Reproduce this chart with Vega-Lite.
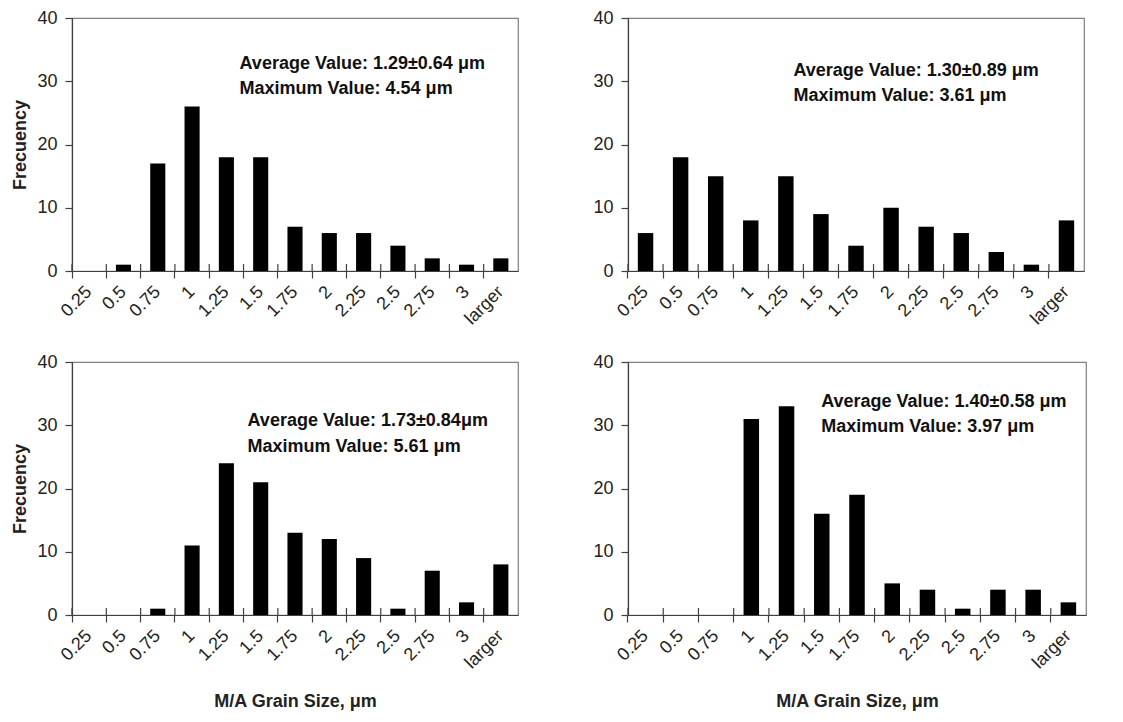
{
  "$schema": "https://vega.github.io/schema/vega-lite/v6.json",
  "background": "white",
  "padding": {"left": 11, "top": 8, "right": 5, "bottom": 5},
  "config": {
    "font": "Liberation Sans",
    "view": {"stroke": "#808080", "strokeWidth": 1.2},
    "axis": {
      "domainColor": "#404040", "tickColor": "#404040", "domainWidth": 1.2, "tickWidth": 1.2,
      "labelColor": "#222222", "labelFontSize": 18, "labelFont": "Liberation Sans",
      "titleFontSize": 18, "titleFontWeight": "bold", "titleColor": "#222222", "titleFont": "Liberation Sans",
      "grid": false
    }
  },
  "datasets": {
    "hist": [
      {"panel": "a", "bin": "0.25", "freq": 0}, {"panel": "a", "bin": "0.5", "freq": 1}, {"panel": "a", "bin": "0.75", "freq": 17},
      {"panel": "a", "bin": "1", "freq": 26}, {"panel": "a", "bin": "1.25", "freq": 18}, {"panel": "a", "bin": "1.5", "freq": 18},
      {"panel": "a", "bin": "1.75", "freq": 7}, {"panel": "a", "bin": "2", "freq": 6}, {"panel": "a", "bin": "2.25", "freq": 6},
      {"panel": "a", "bin": "2.5", "freq": 4}, {"panel": "a", "bin": "2.75", "freq": 2}, {"panel": "a", "bin": "3", "freq": 1},
      {"panel": "a", "bin": "larger", "freq": 2},
      {"panel": "b", "bin": "0.25", "freq": 6}, {"panel": "b", "bin": "0.5", "freq": 18}, {"panel": "b", "bin": "0.75", "freq": 15},
      {"panel": "b", "bin": "1", "freq": 8}, {"panel": "b", "bin": "1.25", "freq": 15}, {"panel": "b", "bin": "1.5", "freq": 9},
      {"panel": "b", "bin": "1.75", "freq": 4}, {"panel": "b", "bin": "2", "freq": 10}, {"panel": "b", "bin": "2.25", "freq": 7},
      {"panel": "b", "bin": "2.5", "freq": 6}, {"panel": "b", "bin": "2.75", "freq": 3}, {"panel": "b", "bin": "3", "freq": 1},
      {"panel": "b", "bin": "larger", "freq": 8},
      {"panel": "c", "bin": "0.25", "freq": 0}, {"panel": "c", "bin": "0.5", "freq": 0}, {"panel": "c", "bin": "0.75", "freq": 1},
      {"panel": "c", "bin": "1", "freq": 11}, {"panel": "c", "bin": "1.25", "freq": 24}, {"panel": "c", "bin": "1.5", "freq": 21},
      {"panel": "c", "bin": "1.75", "freq": 13}, {"panel": "c", "bin": "2", "freq": 12}, {"panel": "c", "bin": "2.25", "freq": 9},
      {"panel": "c", "bin": "2.5", "freq": 1}, {"panel": "c", "bin": "2.75", "freq": 7}, {"panel": "c", "bin": "3", "freq": 2},
      {"panel": "c", "bin": "larger", "freq": 8},
      {"panel": "d", "bin": "0.25", "freq": 0}, {"panel": "d", "bin": "0.5", "freq": 0}, {"panel": "d", "bin": "0.75", "freq": 0},
      {"panel": "d", "bin": "1", "freq": 31}, {"panel": "d", "bin": "1.25", "freq": 33}, {"panel": "d", "bin": "1.5", "freq": 16},
      {"panel": "d", "bin": "1.75", "freq": 19}, {"panel": "d", "bin": "2", "freq": 5}, {"panel": "d", "bin": "2.25", "freq": 4},
      {"panel": "d", "bin": "2.5", "freq": 1}, {"panel": "d", "bin": "2.75", "freq": 4}, {"panel": "d", "bin": "3", "freq": 4},
      {"panel": "d", "bin": "larger", "freq": 2}
    ],
    "notes": [
      {"panel": "a", "text": "Average Value: 1.29±0.64  μm", "bin": "1.5", "freq": 32},
      {"panel": "a", "text": "Maximum Value: 4.54  μm", "bin": "1.5", "freq": 28},
      {"panel": "b", "text": "Average Value: 1.30±0.89 μm", "bin": "1.5", "freq": 30.8},
      {"panel": "b", "text": "Maximum Value: 3.61 μm", "bin": "1.5", "freq": 26.9},
      {"panel": "c", "text": "Average Value: 1.73±0.84μm", "bin": "1.5", "freq": 29.9},
      {"panel": "c", "text": "Maximum Value: 5.61 μm", "bin": "1.5", "freq": 25.8},
      {"panel": "d", "text": "Average Value: 1.40±0.58 μm", "bin": "1.5", "freq": 32.9},
      {"panel": "d", "text": "Maximum Value: 3.97 μm", "bin": "1.5", "freq": 28.9}
    ]
  },
  "columns": 2,
  "bounds": "flush",
  "spacing": {"row": 91, "column": 110},
  "concat": [
    {
      "width": 446, "height": 253,
      "layer": [
        {
          "data": {"name": "hist"},
          "transform": [{"filter": "datum.panel === 'a'"}],
          "mark": {"type": "bar", "color": "black", "width": {"band": 0.44}},
          "encoding": {
            "x": {"field": "bin", "type": "ordinal", "title": null,
              "scale": {"domain": ["0.25","0.5","0.75","1","1.25","1.5","1.75","2","2.25","2.5","2.75","3","larger"], "paddingInner": 0, "paddingOuter": 0},
              "axis": {"bandPosition": 0, "labelAngle": -45, "labelAlign": "right", "labelBaseline": "middle", "tickSize": 7, "labelPadding": 11, "labelOverlap": false}},
            "y": {"field": "freq", "type": "quantitative", "title": "Frecuency",
              "scale": {"domain": [0, 40], "nice": false},
              "axis": {"values": [0, 10, 20, 30, 40], "tickSize": 7, "labelPadding": 8, "titlePadding": 7}}
          }
        },
        {
          "data": {"name": "hist"},
          "transform": [{"filter": "datum.panel === 'a'"}],
          "mark": {"type": "rule", "color": "#404040", "strokeWidth": 1.2},
          "encoding": {
            "x": {"field": "bin", "type": "ordinal", "bandPosition": 0, "title": null},
            "y": {"datum": 0, "type": "quantitative"},
            "y2": {"datum": 1.1}
          }
        },
        {
          "data": {"name": "notes"},
          "transform": [{"filter": "datum.panel === 'a'"}],
          "mark": {"type": "text", "align": "left", "baseline": "alphabetic", "fontWeight": "bold", "fontSize": 18, "color": "#111111", "dx": -4},
          "encoding": {
            "x": {"field": "bin", "type": "ordinal", "bandPosition": 0, "title": null},
            "y": {"field": "freq", "type": "quantitative", "title": "Frecuency"},
            "text": {"field": "text"}
          }
        }
      ]
    },
    {
      "width": 456, "height": 253,
      "layer": [
        {
          "data": {"name": "hist"},
          "transform": [{"filter": "datum.panel === 'b'"}],
          "mark": {"type": "bar", "color": "black", "width": {"band": 0.44}},
          "encoding": {
            "x": {"field": "bin", "type": "ordinal", "title": null,
              "scale": {"domain": ["0.25","0.5","0.75","1","1.25","1.5","1.75","2","2.25","2.5","2.75","3","larger"], "paddingInner": 0, "paddingOuter": 0},
              "axis": {"bandPosition": 0, "labelAngle": -45, "labelAlign": "right", "labelBaseline": "middle", "tickSize": 7, "labelPadding": 11, "labelOverlap": false}},
            "y": {"field": "freq", "type": "quantitative", "title": null,
              "scale": {"domain": [0, 40], "nice": false},
              "axis": {"values": [0, 10, 20, 30, 40], "tickSize": 7, "labelPadding": 8}}
          }
        },
        {
          "data": {"name": "hist"},
          "transform": [{"filter": "datum.panel === 'b'"}],
          "mark": {"type": "rule", "color": "#404040", "strokeWidth": 1.2},
          "encoding": {
            "x": {"field": "bin", "type": "ordinal", "bandPosition": 0, "title": null},
            "y": {"datum": 0, "type": "quantitative"},
            "y2": {"datum": 1.1}
          }
        },
        {
          "data": {"name": "notes"},
          "transform": [{"filter": "datum.panel === 'b'"}],
          "mark": {"type": "text", "align": "left", "baseline": "alphabetic", "fontWeight": "bold", "fontSize": 18, "color": "#111111", "dx": -10},
          "encoding": {
            "x": {"field": "bin", "type": "ordinal", "bandPosition": 0, "title": null},
            "y": {"field": "freq", "type": "quantitative", "title": null},
            "text": {"field": "text"}
          }
        }
      ]
    },
    {
      "width": 446, "height": 253,
      "layer": [
        {
          "data": {"name": "hist"},
          "transform": [{"filter": "datum.panel === 'c'"}],
          "mark": {"type": "bar", "color": "black", "width": {"band": 0.44}},
          "encoding": {
            "x": {"field": "bin", "type": "ordinal", "title": "M/A Grain Size, μm",
              "scale": {"domain": ["0.25","0.5","0.75","1","1.25","1.5","1.75","2","2.25","2.5","2.75","3","larger"], "paddingInner": 0, "paddingOuter": 0},
              "axis": {"bandPosition": 0, "labelAngle": -45, "labelAlign": "right", "labelBaseline": "middle", "tickSize": 7, "labelPadding": 11, "labelOverlap": false, "titlePadding": 21}},
            "y": {"field": "freq", "type": "quantitative", "title": "Frecuency",
              "scale": {"domain": [0, 40], "nice": false},
              "axis": {"values": [0, 10, 20, 30, 40], "tickSize": 7, "labelPadding": 8, "titlePadding": 7}}
          }
        },
        {
          "data": {"name": "hist"},
          "transform": [{"filter": "datum.panel === 'c'"}],
          "mark": {"type": "rule", "color": "#404040", "strokeWidth": 1.2},
          "encoding": {
            "x": {"field": "bin", "type": "ordinal", "bandPosition": 0, "title": "M/A Grain Size, μm"},
            "y": {"datum": 0, "type": "quantitative"},
            "y2": {"datum": 1.1}
          }
        },
        {
          "data": {"name": "notes"},
          "transform": [{"filter": "datum.panel === 'c'"}],
          "mark": {"type": "text", "align": "left", "baseline": "alphabetic", "fontWeight": "bold", "fontSize": 18, "color": "#111111", "dx": 4},
          "encoding": {
            "x": {"field": "bin", "type": "ordinal", "bandPosition": 0, "title": "M/A Grain Size, μm"},
            "y": {"field": "freq", "type": "quantitative", "title": "Frecuency"},
            "text": {"field": "text"}
          }
        }
      ]
    },
    {
      "width": 458, "height": 253,
      "layer": [
        {
          "data": {"name": "hist"},
          "transform": [{"filter": "datum.panel === 'd'"}],
          "mark": {"type": "bar", "color": "black", "width": {"band": 0.44}},
          "encoding": {
            "x": {"field": "bin", "type": "ordinal", "title": "M/A Grain Size, μm",
              "scale": {"domain": ["0.25","0.5","0.75","1","1.25","1.5","1.75","2","2.25","2.5","2.75","3","larger"], "paddingInner": 0, "paddingOuter": 0},
              "axis": {"bandPosition": 0, "labelAngle": -45, "labelAlign": "right", "labelBaseline": "middle", "tickSize": 7, "labelPadding": 11, "labelOverlap": false, "titlePadding": 21}},
            "y": {"field": "freq", "type": "quantitative", "title": null,
              "scale": {"domain": [0, 40], "nice": false},
              "axis": {"values": [0, 10, 20, 30, 40], "tickSize": 7, "labelPadding": 8}}
          }
        },
        {
          "data": {"name": "hist"},
          "transform": [{"filter": "datum.panel === 'd'"}],
          "mark": {"type": "rule", "color": "#404040", "strokeWidth": 1.2},
          "encoding": {
            "x": {"field": "bin", "type": "ordinal", "bandPosition": 0, "title": "M/A Grain Size, μm"},
            "y": {"datum": 0, "type": "quantitative"},
            "y2": {"datum": 1.1}
          }
        },
        {
          "data": {"name": "notes"},
          "transform": [{"filter": "datum.panel === 'd'"}],
          "mark": {"type": "text", "align": "left", "baseline": "alphabetic", "fontWeight": "bold", "fontSize": 18, "color": "#111111", "dx": 17},
          "encoding": {
            "x": {"field": "bin", "type": "ordinal", "bandPosition": 0, "title": "M/A Grain Size, μm"},
            "y": {"field": "freq", "type": "quantitative", "title": null},
            "text": {"field": "text"}
          }
        }
      ]
    }
  ]
}
